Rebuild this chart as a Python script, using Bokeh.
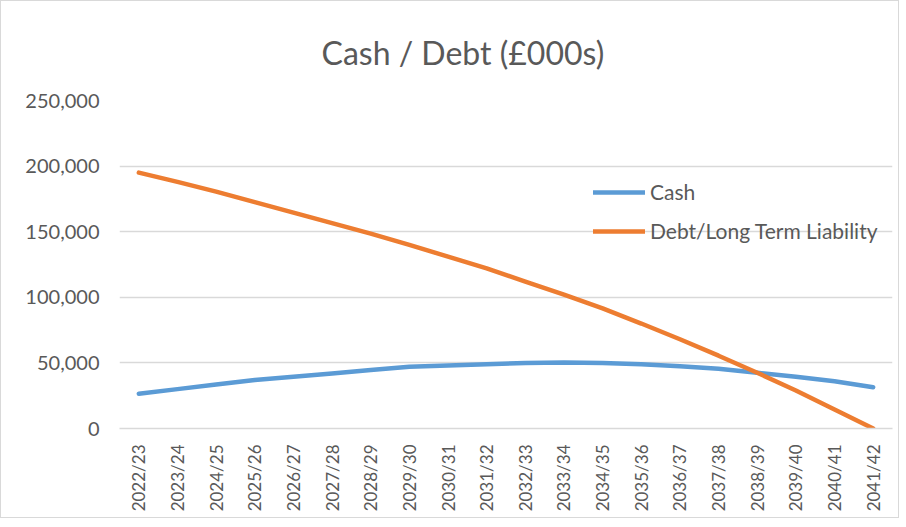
from bokeh.plotting import figure
from bokeh.models import ColumnDataSource, Legend, LegendItem, Title, NumeralTickFormatter, FixedTicker, Range1d
from bokeh.embed import file_html
from bokeh.resources import INLINE
from math import pi

years = ["2022/23", "2023/24", "2024/25", "2025/26", "2026/27", "2027/28", "2028/29",
         "2029/30", "2030/31", "2031/32", "2032/33", "2033/34", "2034/35", "2035/36",
         "2036/37", "2037/38", "2038/39", "2039/40", "2040/41", "2041/42"]
cash = [26500, 30000, 33500, 37000, 39500, 42000, 44500, 47000, 48000, 49000,
        50000, 50300, 50000, 49000, 47500, 45500, 42500, 39500, 36000, 31500]
debt = [195000, 188000, 180500, 172500, 164500, 156500, 148500, 140000, 131000, 122000,
        112000, 102000, 91500, 80000, 68000, 55500, 42500, 29000, 14500, 0]
y_ticks = [0, 50000, 100000, 150000, 200000, 250000]

FONT = "Lato"
TXT = "#595959"
GRID = "#d9d9d9"

src = ColumnDataSource(dict(year=years, cash=cash, debt=debt))

p = figure(x_range=years, y_range=Range1d(0, 250000), width=899, height=518,
           output_backend="svg", toolbar_location=None,
           min_border_left=118, min_border_right=8, min_border_top=99, min_border_bottom=91)
p.styles = {"border": "1px solid #d9d9d9"}
p.outline_line_color = None
p.background_fill_color = "white"
p.border_fill_color = "white"

r_cash = p.line("year", "cash", source=src, line_color="#5B9BD5", line_width=4.5, line_cap="round")
r_debt = p.line("year", "debt", source=src, line_color="#ED7D31", line_width=4.5, line_cap="round")

p.yaxis.ticker = FixedTicker(ticks=y_ticks)
p.yaxis.formatter = NumeralTickFormatter(format="0,0")
p.yaxis.axis_line_color = None
p.yaxis.major_tick_line_color = None
p.yaxis.minor_tick_line_color = None
p.yaxis.major_label_text_font = FONT
p.yaxis.major_label_text_font_size = "20px"
p.yaxis.major_label_text_color = TXT
p.yaxis.major_label_standoff = 14

p.xaxis.axis_line_color = GRID
p.xaxis.axis_line_width = 1.5
p.xaxis.major_tick_line_color = None
p.xaxis.minor_tick_line_color = None
p.xaxis.major_label_orientation = pi / 2
p.xaxis.major_label_text_font = FONT
p.xaxis.major_label_text_font_size = "17px"
p.xaxis.major_label_text_color = TXT
p.xaxis.major_label_standoff = 10

p.xgrid.grid_line_color = None
p.ygrid.grid_line_color = GRID
p.ygrid.grid_line_width = 1.5

p.add_layout(Title(text="Cash / Debt (£000s)", text_font=FONT, text_font_size="32px",
                   text_color=TXT, text_font_style="normal", align="left", offset=202,
                   standoff=57), "above")

legend = Legend(items=[LegendItem(label="Cash", renderers=[r_cash]),
                       LegendItem(label="Debt/Long Term Liability", renderers=[r_debt])],
                location=(474, 185), glyph_width=52, glyph_height=20, label_height=20,
                label_standoff=5, spacing=14, padding=0, margin=0,
                label_text_font=FONT, label_text_font_size="21px", label_text_color=TXT,
                background_fill_alpha=0, border_line_color=None)
p.add_layout(legend)

open("out.html", "w").write(file_html(p, INLINE))
